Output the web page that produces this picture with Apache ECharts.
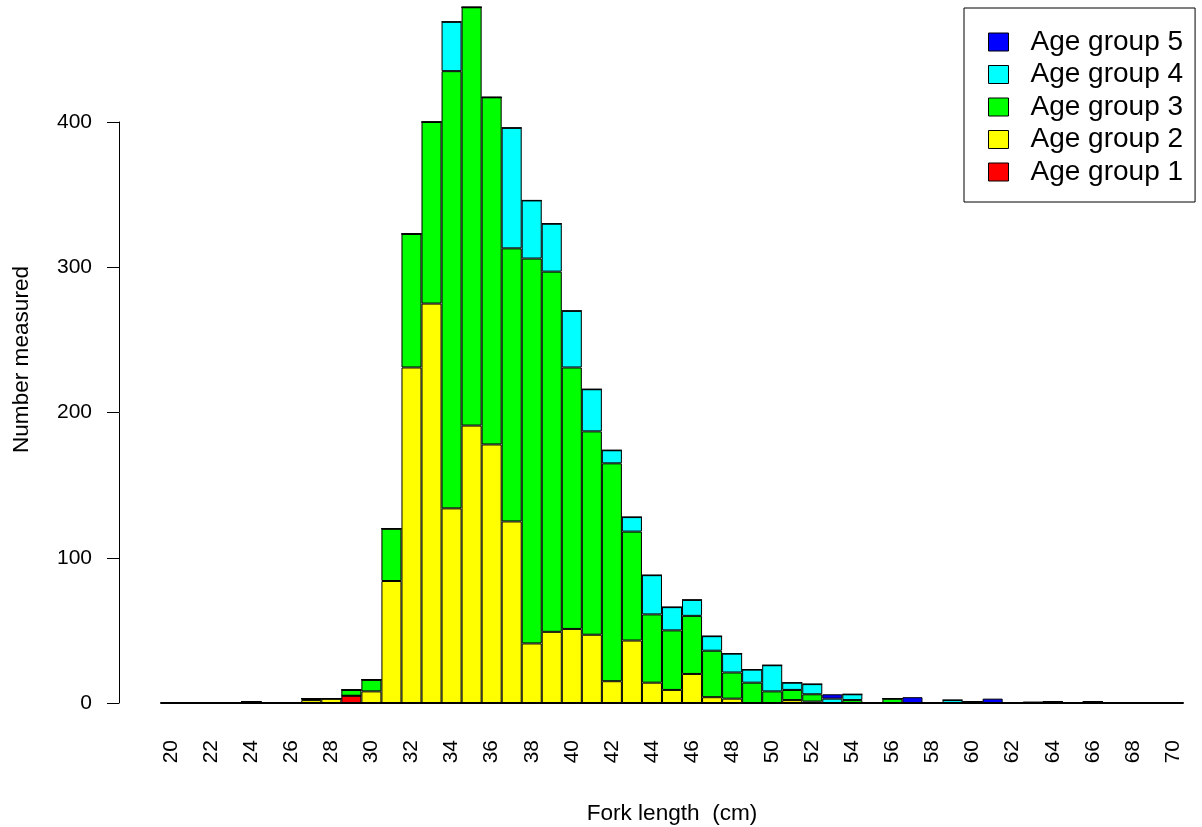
<!DOCTYPE html>
<html>
<head>
<meta charset="utf-8">
<script src="https://cdn.jsdelivr.net/npm/echarts@6/dist/echarts.min.js"></script>
<style>
html,body{margin:0;padding:0;background:#fff;}
#chart{width:1202px;height:827px;}
</style>
</head>
<body>
<div id="chart"></div>
<script>
// Fork length categories (cm)
const lengths = [];
for (let l = 20; l <= 70; l++) lengths.push(String(l));

// Counts per age group, one value per length 20..70
const age1 = [0,0,0,0,1,0,0,0,0,5,
              0,0,0,0,0,0,0,0,0,0,
              0,0,0,0,0,0,0,0,0,0,
              0,0,0,0,0,0,0,0,0,0,
              0,0,0,0,0,0,0,0,0,0,
              0];
const age2 = [0,0,0,0,0,0,0,2,3,0,
              8,84,231,275,134,191,178,125,41,49,
              51,47,15,43,14,9,20,4,3,0,
              0,2,1,0,0,0,0,0,0,0,
              0,0,0,0,0,0,0,0,0,0,
              0];
const age3 = [0,0,0,0,0,0,0,1,0,4,
              8,36,92,125,301,288,239,188,265,248,
              180,140,150,75,47,41,40,32,18,14,
              8,7,5,0,2,0,3,0,0,0,
              0,0,0,0,0,0,0,0,0,0,
              0];
const age4 = [0,0,0,0,0,0,0,0,0,0,
              0,0,0,0,34,0,0,83,40,33,
              39,29,9,10,27,16,11,10,13,9,
              18,5,7,3,4,0,0,0,0,2,
              1,0,0,0,1,0,1,0,0,0,
              0];
const age5 = [0,0,0,0,0,0,0,0,0,0,
              0,0,0,0,0,0,0,0,0,0,
              0,0,0,0,0,0,0,0,0,0,
              0,0,0,3,0,0,0,4,0,0,
              0,3,0,1,0,0,0,0,0,0,
              0];

const yTicks = [0, 100, 200, 300, 400];
const groupNames = ['Age group 1','Age group 2','Age group 3','Age group 4','Age group 5'];
const groupColors = ['#FF0000','#FFFF00','#00FF00','#00FFFF','#0000FF'];
const groupData = [age1, age2, age3, age4, age5];

const FONT = '"Liberation Sans", Arial, Helvetica, sans-serif';

const chart = echarts.init(document.getElementById('chart'), null, {renderer: 'canvas'});

const series = groupNames.map((name, i) => ({
  name: name,
  type: 'bar',
  stack: 'total',
  xAxisIndex: 0,
  yAxisIndex: 0,
  barCategoryGap: '0%',
  barGap: '0%',
  data: groupData[i],
  itemStyle: {color: groupColors[i], borderColor: '#000', borderWidth: 1},
  emphasis: {disabled: true},
  animation: false
}));

chart.setOption({
  animation: false,
  backgroundColor: '#fff',
  textStyle: {fontFamily: FONT},
  grid: [
    {left: 161, right: 19, top: 0, bottom: 124, containLabel: false, outerBoundsMode: 'none'},
    {left: 119, width: 40, top: 122, bottom: 124, containLabel: false, outerBoundsMode: 'none'}
  ],
  legend: {
    data: groupNames.slice().reverse(),
    orient: 'vertical',
    left: 964,
    top: 8,
    padding: [20, 12, 16, 24],
    itemWidth: 20,
    itemHeight: 18,
    itemGap: 4.5,
    backgroundColor: '#fff',
    borderColor: '#000',
    borderWidth: 1,
    borderRadius: 0,
    icon: 'rect',
    itemStyle: {borderColor: '#000', borderWidth: 1},
    textStyle: {fontSize: 28, color: '#000', fontFamily: FONT, padding: [0, 0, 0, 17]},
    selectedMode: false
  },
  xAxis: [
    {
      type: 'category',
      gridIndex: 0,
      data: lengths,
      boundaryGap: true,
      axisLine: {show: true, lineStyle: {color: '#000', width: 2}},
      axisTick: {show: false},
      axisLabel: {show: true, interval: 1, rotate: 90, margin: 37, fontSize: 21, color: '#000', fontFamily: FONT, padding: [14, 0, 0, 0]},
      splitLine: {show: false},
      name: 'Fork length  (cm)',
      nameLocation: 'middle',
      nameGap: 99,
      nameTextStyle: {fontSize: 22.6, color: '#000', fontFamily: FONT}
    },
    {type: 'value', gridIndex: 1, show: false, min: 0, max: 1}
  ],
  yAxis: [
    {
      type: 'value',
      gridIndex: 0,
      min: 0,
      max: 484,
      axisLine: {show: false},
      axisTick: {show: false},
      axisLabel: {show: false},
      splitLine: {show: false},
      name: 'Number measured',
      nameLocation: 'middle',
      nameRotate: 90,
      nameGap: 128,
      nameTextStyle: {fontSize: 22.6, color: '#000', fontFamily: FONT, padding: [0, 16, 0, 0]}
    },
    {
      type: 'value',
      gridIndex: 1,
      position: 'left',
      min: yTicks[0],
      max: yTicks[yTicks.length - 1],
      interval: 100,
      axisLine: {show: true, lineStyle: {color: '#000', width: 1}},
      axisTick: {show: true, length: 12, lineStyle: {color: '#000', width: 1}},
      axisLabel: {show: true, margin: 27, fontSize: 21, color: '#000', fontFamily: FONT},
      splitLine: {show: false}
    }
  ],
  series: series
});
</script>
</body>
</html>
